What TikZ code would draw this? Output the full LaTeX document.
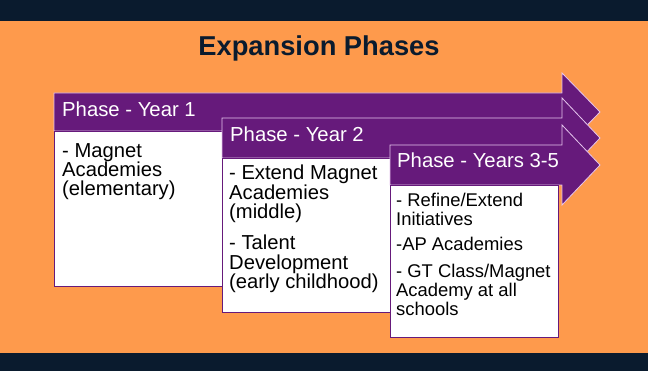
\documentclass[tikz,border=0pt]{standalone}
\usepackage{fontspec}
\setmainfont{Liberation Sans}
\definecolor{bgorange}{HTML}{FE9A4C}
\definecolor{navy}{HTML}{0A1B2E}
\definecolor{phpurple}{HTML}{661A7B}
\definecolor{edgelav}{HTML}{E6C6EE}
\begin{document}
\begin{tikzpicture}[x=1pt,y=-1pt,
  arrowshape/.style={fill=phpurple,draw=edgelav,line width=0.8pt,line join=miter},
  bodybox/.style={fill=white,draw=phpurple,line width=0.8pt},
  headtext/.style={anchor=north west,inner sep=0pt,text=white,font=\fontsize{20.3}{20}\selectfont},
  bodytext/.style={anchor=north west,inner sep=0pt,align=left,text=black,font=\fontsize{20.2}{19.4}\selectfont},
  smalltext/.style={anchor=north west,inner sep=0pt,align=left,text=black,font=\fontsize{18.4}{18.8}\selectfont}]
\useasboundingbox (0,0) rectangle (648,371);
\fill[bgorange] (0,0) rectangle (648,371);
\fill[navy] (0,0) rectangle (648,21);
\fill[navy] (0,353) rectangle (648,371);
\node[font=\fontsize{27.3}{29}\selectfont\bfseries,text=navy,anchor=center] (title) at (319,48) {Expansion Phases};
% phase 1
\draw[arrowshape] (54,93) -- (562,93) -- (562,73) -- (600,112) -- (562,151) -- (562,131) -- (54,131) -- cycle;
\draw[bodybox] (54,131) rectangle (222,286);
\node[headtext] (h1) at (62,102) {Phase - Year 1};
\node[bodytext] (b1) at (62,143) {- Magnet\\Academies\\(elementary)};
% phase 2
\draw[arrowshape] (222,118) -- (562,118) -- (562,98) -- (600,138) -- (562,178) -- (562,158) -- (222,158) -- cycle;
\draw[bodybox] (222,158) rectangle (390,312);
\node[headtext] (h2) at (230,127) {Phase - Year 2};
\node[bodytext] (b2a) at (229,165) {- Extend Magnet\\Academies\\(middle)};
\node[bodytext] (b2b) at (229,235) {- Talent\\Development\\(early childhood)};
% phase 3
\draw[arrowshape] (390,145) -- (562,145) -- (562,125) -- (600,165) -- (562,205) -- (562,185) -- (390,185) -- cycle;
\draw[bodybox] (390,185) rectangle (558,337);
\node[headtext] (h3) at (397,153) {Phase - Years 3-5};
\node[smalltext] (b3a) at (396,193) {- Refine/Extend\\Initiatives};
\node[smalltext] (b3b) at (396,237) {-AP Academies};
\node[smalltext] (b3c) at (396,264) {- GT Class/Magnet\\Academy at all\\schools};
\end{tikzpicture}
\end{document}
